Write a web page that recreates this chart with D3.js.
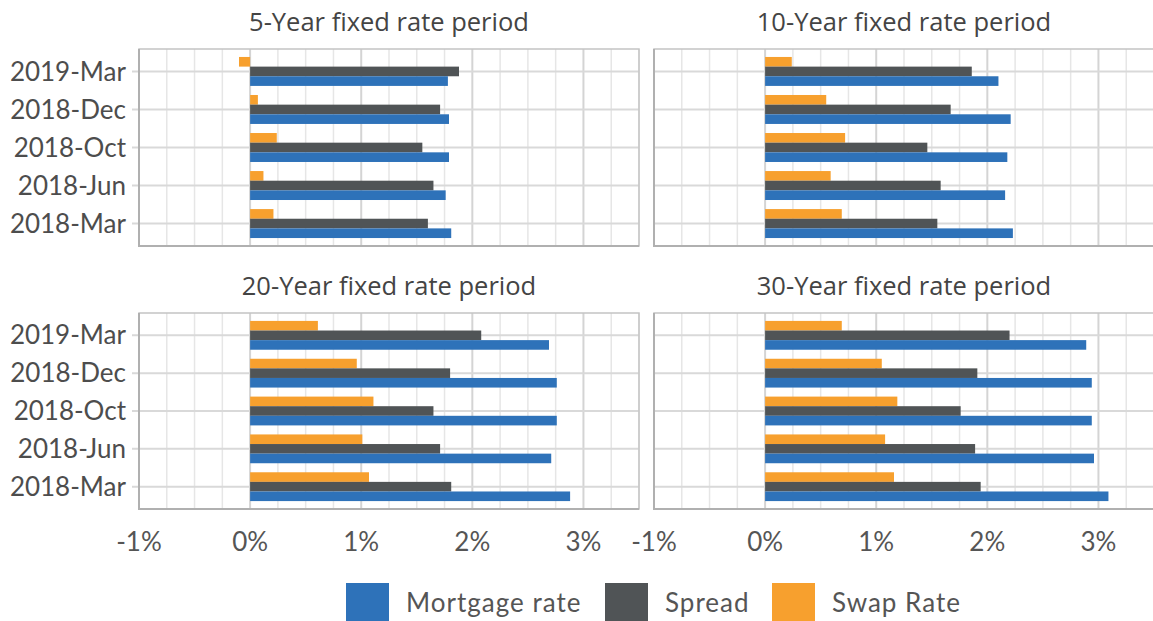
<!DOCTYPE html>
<html>
<head>
<meta charset="utf-8">
<script src="https://cdn.jsdelivr.net/npm/d3@7"></script>
<style>
  body { margin: 0; background: #fff; }
  svg { display: block; }
</style>
</head>
<body>
<div id="chart"></div>
<script>
// categories, top to bottom
var categories = ["2019-Mar", "2018-Dec", "2018-Oct", "2018-Jun", "2018-Mar"];
var periods = ["5-Year fixed rate period", "10-Year fixed rate period", "20-Year fixed rate period", "30-Year fixed rate period"];
var seriesNames = ["Mortgage rate", "Spread", "Swap Rate"];
var xTicks = [-1, 0, 1, 2, 3];
var xTickLabels = ["-1%", "0%", "1%", "2%", "3%"];

// values in %
var mortgage5 = [1.78, 1.79, 1.79, 1.76, 1.81];
var spread5 = [1.88, 1.71, 1.55, 1.65, 1.60];
var swap5 = [-0.10, 0.07, 0.24, 0.12, 0.21];

var mortgage10 = [2.10, 2.21, 2.18, 2.16, 2.23];
var spread10 = [1.86, 1.67, 1.46, 1.58, 1.55];
var swap10 = [0.24, 0.55, 0.72, 0.59, 0.69];

var mortgage20 = [2.69, 2.76, 2.76, 2.71, 2.88];
var spread20 = [2.08, 1.80, 1.65, 1.71, 1.81];
var swap20 = [0.61, 0.96, 1.11, 1.01, 1.07];

var mortgage30 = [2.89, 2.94, 2.94, 2.96, 3.09];
var spread30 = [2.20, 1.91, 1.76, 1.89, 1.94];
var swap30 = [0.69, 1.05, 1.19, 1.08, 1.16];

var width = 1153, height = 621;
var color = d3.scaleOrdinal()
    .domain(seriesNames)
    .range(["#2e72b9", "#505456", "#f7a02e"]);
var barOrder = ["Swap Rate", "Spread", "Mortgage rate"]; // top to bottom within a group

var panelData = [
    { title: periods[0], m: mortgage5, s: spread5, w: swap5, x0: 139, y0: 49, y1: 246, labels: true, axis: false },
    { title: periods[1], m: mortgage10, s: spread10, w: swap10, x0: 654, y0: 49, y1: 246, labels: false, axis: false },
    { title: periods[2], m: mortgage20, s: spread20, w: swap20, x0: 139, y0: 313, y1: 509, labels: true, axis: true },
    { title: periods[3], m: mortgage30, s: spread30, w: swap30, x0: 654, y0: 313, y1: 509, labels: false, axis: true }
];
var panelW = 500;

var svg = d3.select("#chart")
    .append("svg")
    .attr("width", width)
    .attr("height", height);

var labelFont = "Lato, 'Open Sans', sans-serif";

panelData.forEach(function (p) {
    var x = d3.scaleLinear().domain([-1, 3.5]).range([p.x0, p.x0 + panelW]);
    var y = d3.scaleBand().domain(categories).range([p.y0, p.y1]).paddingInner(0).paddingOuter(0.09);
    var sub = d3.scaleBand().domain(barOrder).range([0, y.bandwidth()]).paddingInner(0).paddingOuter(0.47);

    var g = svg.append("g");

    // minor vertical grid
    g.selectAll(".minor")
        .data(d3.range(-1, 3.51, 0.25).filter(function (v) { return Math.abs(v - Math.round(v)) > 0.01; }))
        .enter().append("line")
        .attr("x1", function (d) { return x(d); })
        .attr("x2", function (d) { return x(d); })
        .attr("y1", p.y0).attr("y2", p.y1)
        .attr("stroke", "#e6e6e6").attr("stroke-width", 1.5);

    // major vertical grid
    g.selectAll(".major")
        .data([0, 1, 2, 3])
        .enter().append("line")
        .attr("x1", function (d) { return x(d); })
        .attr("x2", function (d) { return x(d); })
        .attr("y1", p.y0).attr("y2", p.y1)
        .attr("stroke", "#d4d4d4").attr("stroke-width", 2);

    // horizontal grid at categories (with tick on left panels)
    g.selectAll(".hgrid")
        .data(categories)
        .enter().append("line")
        .attr("x1", p.labels ? p.x0 - 7 : p.x0)
        .attr("x2", p.x0 + panelW)
        .attr("y1", function (d) { return y(d) + y.bandwidth() / 2; })
        .attr("y2", function (d) { return y(d) + y.bandwidth() / 2; })
        .attr("stroke", "#d9d9d9").attr("stroke-width", 2);

    // bars
    var rows = categories.map(function (c, i) {
        return { cat: c, vals: [
            { key: "Swap Rate", v: p.w[i] },
            { key: "Spread", v: p.s[i] },
            { key: "Mortgage rate", v: p.m[i] }
        ] };
    });
    var grp = g.selectAll(".grp")
        .data(rows)
        .enter().append("g")
        .attr("transform", function (d) { return "translate(0," + y(d.cat) + ")"; });
    grp.selectAll("rect")
        .data(function (d) { return d.vals; })
        .enter().append("rect")
        .attr("x", function (d) { return x(Math.min(0, d.v)); })
        .attr("width", function (d) { return Math.abs(x(d.v) - x(0)); })
        .attr("y", function (d) { return sub(d.key); })
        .attr("height", sub.bandwidth())
        .attr("fill", function (d) { return color(d.key); });

    // panel border
    g.append("rect")
        .attr("x", p.x0).attr("y", p.y0)
        .attr("width", panelW).attr("height", p.y1 - p.y0)
        .attr("fill", "none")
        .attr("stroke", "#c4c4c4").attr("stroke-width", 1.5);
    g.append("path")
        .attr("d", "M" + p.x0 + "," + p.y0 + "V" + p.y1 + "H" + (p.x0 + panelW))
        .attr("fill", "none")
        .attr("stroke", "#b0b0b0").attr("stroke-width", 2);

    // title
    svg.append("text")
        .attr("x", p.x0 + panelW / 2)
        .attr("y", p.y0 - 18)
        .attr("text-anchor", "middle")
        .style("font-family", "'Open Sans', sans-serif")
        .style("font-size", "25.5px")
        .style("fill", "#444")
        .text(p.title);

    // category labels
    if (p.labels) {
        g.selectAll(".ylab")
            .data(categories)
            .enter().append("text")
            .attr("x", p.x0 - 13)
            .attr("y", function (d) { return y(d) + y.bandwidth() / 2; })
            .attr("dy", "0.35em")
            .attr("text-anchor", "end")
            .style("font-family", labelFont)
            .style("font-size", "26px")
            .style("fill", "#4d4d4d")
            .text(function (d) { return d; });
    }

    // x tick labels
    if (p.axis) {
        g.selectAll(".xlab")
            .data(xTicks)
            .enter().append("text")
            .attr("x", function (d) { return x(d); })
            .attr("y", 551)
            .attr("text-anchor", "middle")
            .style("font-family", labelFont)
            .style("font-size", "26px")
            .style("fill", "#555")
            .text(function (d, i) { return xTickLabels[i]; });
    }
});

// legend
var legendX = [346, 605, 772];
var legend = svg.selectAll(".legend")
    .data(seriesNames)
    .enter().append("g")
    .attr("transform", function (d, i) { return "translate(" + legendX[i] + ",583)"; });
legend.append("rect")
    .attr("width", 43).attr("height", 38)
    .attr("fill", function (d) { return color(d); });
legend.append("text")
    .attr("x", 60)
    .attr("y", 20)
    .attr("dy", "0.35em")
    .style("font-family", labelFont)
    .style("font-size", "26px")
    .style("letter-spacing", "1px")
    .style("fill", "#555")
    .text(function (d) { return d; });
</script>
</body>
</html>
